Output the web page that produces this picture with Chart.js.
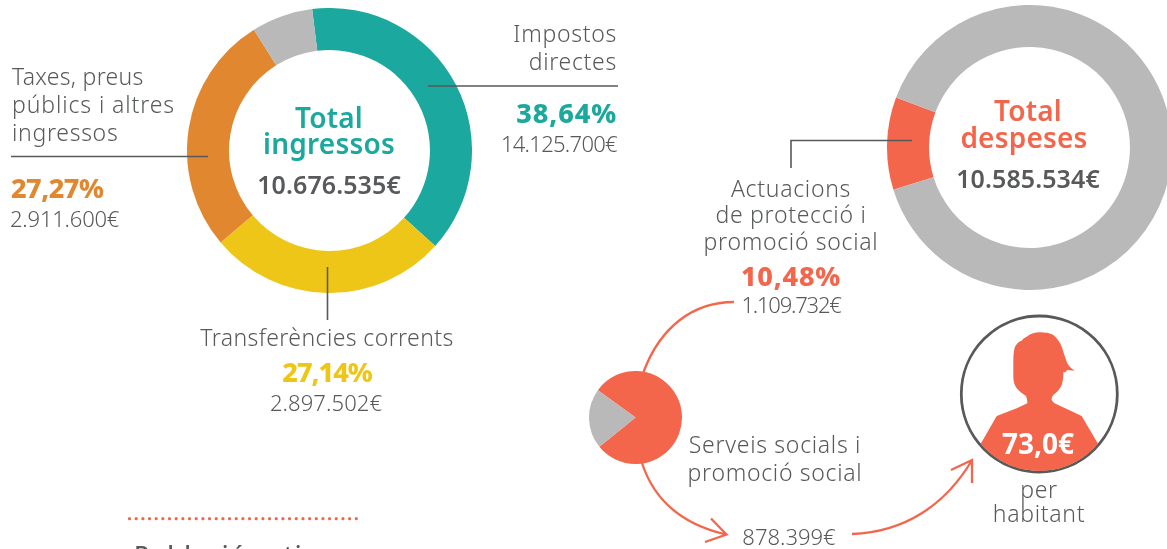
<!DOCTYPE html>
<html>
<head>
<meta charset="utf-8">
<script src="https://cdn.jsdelivr.net/npm/chart.js@4"></script>
<style>
html, body { margin: 0; padding: 0; background: #fff; }
body { position: relative; width: 1167px; height: 549px; overflow: hidden; font-family: "Noto Sans", sans-serif; color: #58595b; }
canvas { position: absolute; }
#ingressos { left: 187px; top: 8px; }
#despeses { left: 887px; top: 5px; }
#serveis { left: 589px; top: 371px; }
svg { position: absolute; left: 0; top: 0; z-index: 2; }
.t { position: absolute; white-space: nowrap; z-index: 3; line-height: 28px; height: 28px; font-weight: 300; font-size: 23px; letter-spacing: .7px; }
.r { transform: translateX(-100%); }
.c { transform: translateX(-50%); }
.pct { font-weight: 800; font-size: 27px; letter-spacing: 0; }
.eur { letter-spacing: -.7px; font-size: 22px; }
.tot { font-weight: 600; font-size: 28px; letter-spacing: .2px; margin-top: -1px; }
.sum { font-weight: 600; font-size: 25px; letter-spacing: .1px; margin-top: -1px; }
</style>
</head>
<body>
<canvas id="ingressos" width="285" height="285"></canvas>
<canvas id="despeses" width="285" height="285"></canvas>
<canvas id="serveis" width="93" height="93"></canvas>

<svg width="1167" height="549" viewBox="0 0 1167 549" fill="none">
  <g stroke="#58595b" stroke-width="1.6">
    <path d="M428 86H618"/>
    <path d="M11 156.500H208"/>
    <path d="M327.500 267V320"/>
    <path d="M912 140.500H791V168"/>
  </g>
  <path d="M129.500 518.700H359" stroke="#f4664c" stroke-width="3.200" stroke-linecap="round" stroke-dasharray="0 6.670"/>
  <g stroke="#f4664c" stroke-width="2.300">
    <path d="M643.500 372C660 328 692 302 734 302"/>
    <path d="M642 463C655 503 685 525 726 534.500M711 518.500L726.500 534.500L705 542"/>
    <path d="M852 534C905 532 945 505 971.500 461M951 470L972 460L972 483"/>
  </g>
  <circle cx="1039.300" cy="394" r="78" stroke="#58595b" stroke-width="2.800"/>
  <clipPath id="cercle"><circle cx="1039.300" cy="394" r="77"/></clipPath>
  <path clip-path="url(#cercle)" fill="#f4664c" d="M1013.300 363C1013.300 354 1014 350 1015 346.700C1017 343 1019 341.500 1021.700 340.700C1023 338.500 1025 337.500 1026.700 336.700C1031 333.500 1035 332.300 1040 332.300C1045 332.300 1050 333 1053.300 335C1057 338 1060 342 1061.700 346.700C1063.500 352 1065 357 1066.700 361.700C1068 365.500 1071 368.500 1075 370.700L1067.300 370L1065 372.500L1063.300 371.700C1063.500 377 1063 381 1061.700 385C1060 389.500 1056.500 392.500 1053.300 395C1052 397 1051.500 398.500 1051.700 400C1052.500 402 1054.500 403.300 1056.700 404.300L1081.700 416L1097.700 443.300L1120 480H960L981 443.300L996.700 416L1016.700 408.300L1027.300 403.300C1027.500 401 1027 398.500 1026 396C1022 393.500 1019 391 1016.700 388.300C1014.500 385 1013.300 381 1013.300 376.700Z"/>
</svg>

<div class="t r" style="left:617px;top:19px">Impostos</div>
<div class="t r" style="left:617px;top:47px">directes</div>
<div class="t r pct" style="left:617px;top:99px;color:#1ba89e;letter-spacing:.9px">38,64%</div>
<div class="t r eur" style="left:617px;top:129px">14.125.700€</div>

<div class="t" style="left:12px;top:62px;letter-spacing:.3px">Taxes, preus</div>
<div class="t" style="left:12px;top:90px;letter-spacing:.9px">públics i altres</div>
<div class="t" style="left:12px;top:118px">ingressos</div>
<div class="t pct" style="left:11px;top:174px;color:#e08730;letter-spacing:-.5px">27,27%</div>
<div class="t eur" style="left:10px;top:204px;letter-spacing:-.2px">2.911.600€</div>

<div class="t c tot" style="left:329px;top:104px;color:#1ba89e">Total</div>
<div class="t c tot" style="left:329px;top:130px;color:#1ba89e">ingressos</div>
<div class="t c sum" style="left:329px;top:171px">10.676.535€</div>

<div class="t c" style="left:327px;top:323px;letter-spacing:.4px">Transferències corrents</div>
<div class="t c pct" style="left:327px;top:358px;color:#eec618;letter-spacing:-1px">27,14%</div>
<div class="t c eur" style="left:326px;top:388px;letter-spacing:.1px">2.897.502€</div>

<div class="t c tot" style="left:1028px;top:97px;color:#f4664c">Total</div>
<div class="t c tot" style="left:1024px;top:124px;color:#f4664c">despeses</div>
<div class="t c sum" style="left:1028px;top:165px">10.585.534€</div>

<div class="t c" style="left:791px;top:174px">Actuacions</div>
<div class="t c" style="left:791px;top:200px">de protecció i</div>
<div class="t c" style="left:791px;top:227px">promoció social</div>
<div class="t c pct" style="left:791px;top:262px;color:#f4664c;letter-spacing:.8px">10,48%</div>
<div class="t c eur" style="left:791px;top:290px;letter-spacing:-1.200px">1.109.732€</div>

<div class="t c" style="left:775px;top:430px">Serveis socials i</div>
<div class="t c" style="left:775px;top:458px">promoció social</div>
<div class="t c eur" style="left:789px;top:522px;letter-spacing:0">878.399€</div>

<div class="t c pct" style="left:1038px;top:429px;color:#fff;font-weight:700;font-size:28px">73,0€</div>
<div class="t c" style="left:1039px;top:475px">per</div>
<div class="t c" style="left:1039px;top:499px">habitant</div>

<div class="t" style="left:134px;top:540px;font-weight:500;font-size:25px;letter-spacing:1.4px">Població activa</div>

<script>
// Ingressos
const ingressosLabels = ['Impostos directes', 'Transferències corrents', 'Taxes, preus públics i altres ingressos', 'Altres'];
const ingressosValues = [38.64, 27.14, 27.27, 6.95];
const ingressosColors = ['#1ba89e', '#eec618', '#e08730', '#b9b9b9'];

// Despeses
const despesesLabels = ['Actuacions de protecció i promoció social', 'Altres'];
const despesesValues = [10.48, 89.52];
const despesesColors = ['#f4664c', '#b9b9b9'];

// Serveis socials dins de les actuacions
const serveisLabels = ['Serveis socials i promoció social', 'Altres'];
const serveisValues = [878399, 231333];
const serveisColors = ['#f4664c', '#b9b9b9'];

const drawRing = (id, labels, values, colors, rotation, cutout, type) => {
    return new Chart(document.getElementById(id), {
        type: type,
        data: {
            labels: labels,
            datasets: [{
                data: values,
                backgroundColor: colors,
                borderWidth: 0
            }]
        },
        options: {
            responsive: false,
            animation: false,
            rotation: rotation,
            cutout: cutout,
            layout: { padding: 0 },
            plugins: {
                legend: { display: false },
                tooltip: { enabled: false }
            }
        }
    });
};

drawRing('ingressos', ingressosLabels, ingressosValues, ingressosColors, -7, '70.5%', 'doughnut');
drawRing('despeses', despesesLabels, despesesValues, despesesColors, 252.8, '70.5%', 'doughnut');
drawRing('serveis', serveisLabels, serveisValues, serveisColors, 306, 0, 'pie');
</script>
</body>
</html>
